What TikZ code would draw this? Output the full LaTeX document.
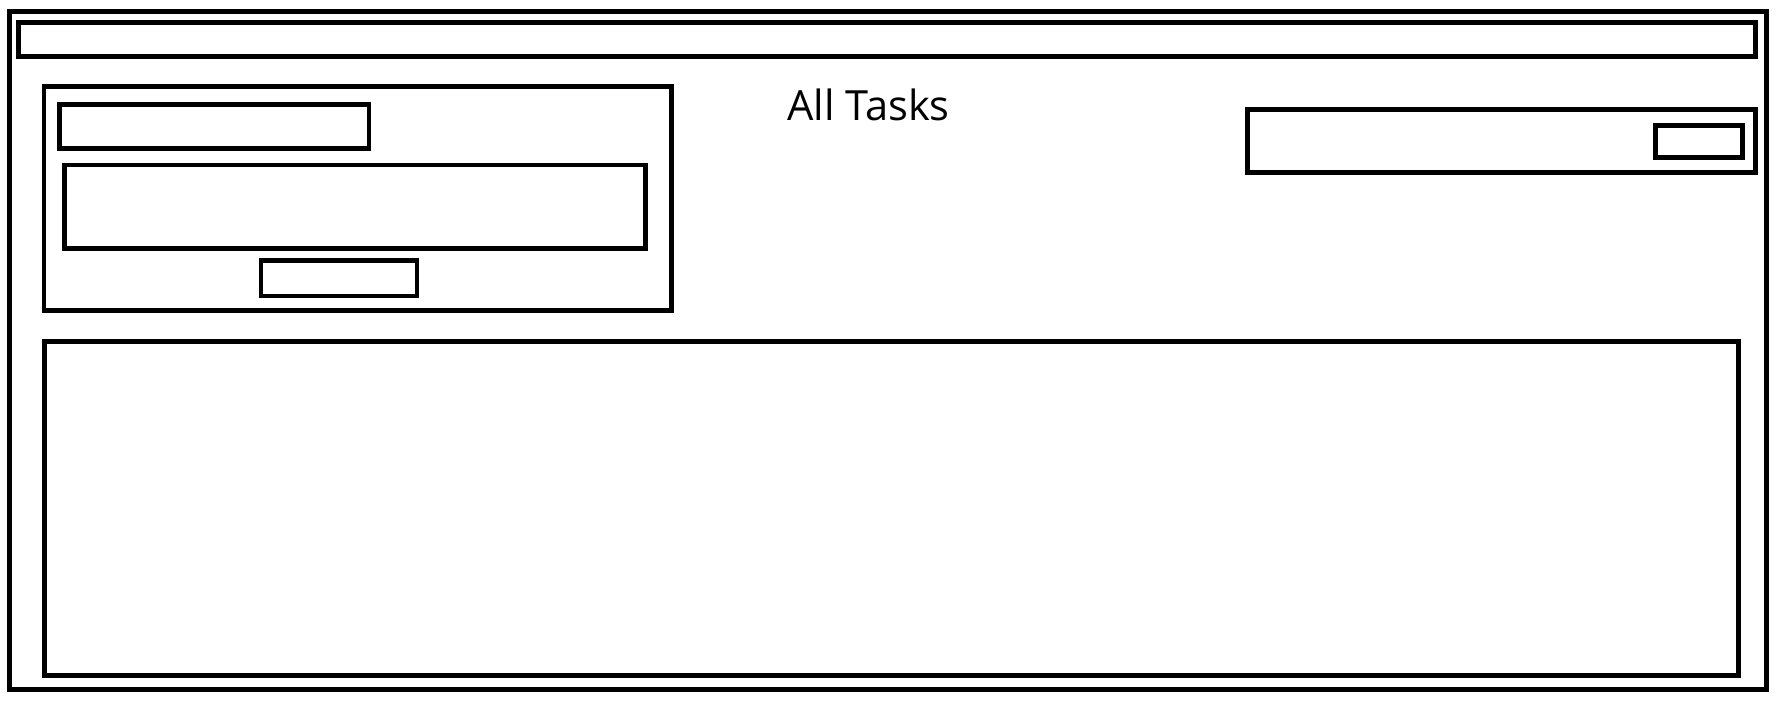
\documentclass[tikz,border=0pt]{standalone}
\usepackage{fontspec}
\setmainfont{Open Sans}
\begin{document}
\begin{tikzpicture}[x=1pt,y=-1pt,
  box/.style={draw=black, line width=4.8pt, inner sep=0pt, outer sep=0pt, rectangle},
  titletext/.style={inner sep=0pt, anchor=base west, font=\fontsize{41.6pt}{48pt}\selectfont}]
\useasboundingbox[fill=white] (0,0) rectangle (1781,713);
\node[box, minimum width=1757pt, minimum height=678pt] (outer) at (888,350.5) {};
\node[box, minimum width=1737pt, minimum height=34pt] (titlebar) at (887,39.5) {};
\node[box, minimum width=627.5pt, minimum height=224pt] (leftpanel) at (357.75,198.5) {};
\node[box, minimum width=309.5pt, minimum height=44pt] (input) at (214.25,126.5) {};
\node[box, minimum width=580.7pt, minimum height=83.5pt] (textarea) at (354.95,206.75) {};
\node[box, minimum width=156pt, minimum height=35.5pt] (button) at (339,278.25) {};
\node[box, minimum width=507.8pt, minimum height=63pt] (search) at (1501.6,141) {};
\node[box, minimum width=87pt, minimum height=32pt] (searchbtn) at (1699,141.5) {};
\node[box, minimum width=1694pt, minimum height=334pt] (list) at (891.5,508.5) {};
\node[titletext] (title) at (787,120) {All Tasks};
\end{tikzpicture}
\end{document}
